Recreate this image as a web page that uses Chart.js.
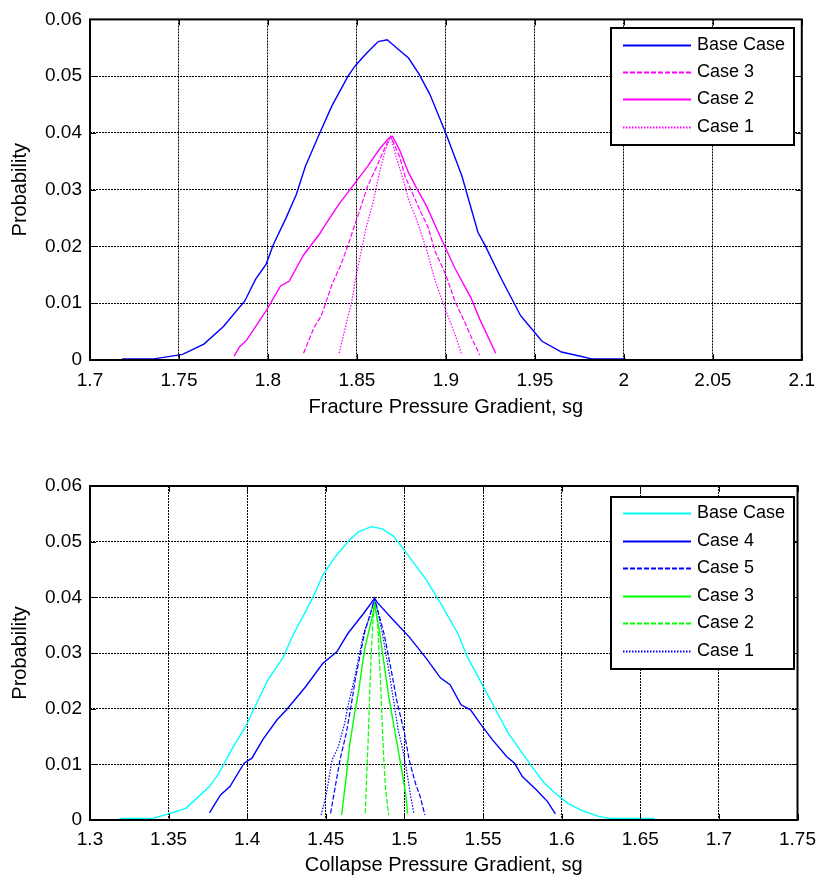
<!DOCTYPE html>
<html><head><meta charset="utf-8">
<script src="https://cdn.jsdelivr.net/npm/chart.js@4.4.1/dist/chart.umd.min.js"></script>
<style>
html,body{margin:0;padding:0;background:#fff;width:824px;height:879px;overflow:hidden;}
#c1{position:absolute;left:0;top:0;}
#c2{position:absolute;left:0;top:440px;}
</style>
</head><body>
<canvas id="c1" width="824" height="440"></canvas>
<canvas id="c2" width="824" height="439"></canvas>
<script>
// ---------- Top chart: Fracture Pressure Gradient ----------
const fracTicks = [1.7,1.75,1.8,1.85,1.9,1.95,2,2.05,2.1];
const fracTickLabels = ['1.7','1.75','1.8','1.85','1.9','1.95','2','2.05','2.1'];
const fracBaseX = [1.718,1.736,1.752,1.764,1.775,1.787,1.793,1.799,1.803,1.810,1.816,1.821,1.829,1.836,1.845,1.849,1.855,1.862,1.867,1.873,1.879,1.885,1.891,1.900,1.909,1.918,1.922,1.931,1.942,1.949,1.954,1.965,1.975,1.982,2.001];
const fracBaseY = [0.0002,0.0002,0.0010,0.0028,0.0059,0.0104,0.0142,0.0169,0.0203,0.0249,0.0292,0.0341,0.0399,0.0448,0.0500,0.0518,0.0539,0.0561,0.0564,0.0548,0.0532,0.0503,0.0468,0.0399,0.0324,0.0225,0.0202,0.0144,0.0078,0.0052,0.0033,0.0014,0.0007,0.0002,0.0002];
const fracCase3X = [1.820,1.826,1.830,1.836,1.841,1.845,1.848,1.850,1.856,1.862,1.866,1.869,1.874,1.877,1.881,1.886,1.890,1.894,1.900,1.905,1.911,1.915,1.919];
const fracCase3Y = [0.0012,0.0058,0.0078,0.0133,0.0168,0.0202,0.0231,0.0249,0.0306,0.0347,0.0376,0.0394,0.0358,0.0324,0.0295,0.0260,0.0234,0.0191,0.0150,0.0104,0.0064,0.0035,0.0009];
const fracCase2X = [1.781,1.784,1.788,1.799,1.807,1.812,1.820,1.829,1.832,1.840,1.849,1.856,1.863,1.868,1.870,1.874,1.879,1.883,1.889,1.894,1.900,1.905,1.914,1.919,1.928];
const fracCase2Y = [0.0007,0.0023,0.0035,0.0087,0.0130,0.0139,0.0185,0.0222,0.0237,0.0275,0.0312,0.0341,0.0373,0.0391,0.0394,0.0370,0.0330,0.0306,0.0272,0.0237,0.0196,0.0162,0.0110,0.0072,0.0012];
const fracCase1X = [1.840,1.844,1.847,1.849,1.852,1.855,1.859,1.863,1.866,1.869,1.872,1.876,1.879,1.884,1.889,1.894,1.900,1.905,1.909];
const fracCase1Y = [0.0012,0.0064,0.0101,0.0139,0.0185,0.0231,0.0277,0.0335,0.0370,0.0394,0.0358,0.0318,0.0283,0.0243,0.0196,0.0139,0.0087,0.0046,0.0009];

// ---------- Bottom chart: Collapse Pressure Gradient ----------
const collTicks = [1.3,1.35,1.4,1.45,1.5,1.55,1.6,1.65,1.7,1.75];
const collTickLabels = ['1.3','1.35','1.4','1.45','1.5','1.55','1.6','1.65','1.7','1.75'];
const collBaseX = [1.319,1.340,1.350,1.361,1.369,1.376,1.382,1.390,1.399,1.405,1.413,1.423,1.429,1.437,1.443,1.448,1.456,1.465,1.471,1.479,1.486,1.493,1.503,1.514,1.523,1.534,1.540,1.549,1.558,1.566,1.575,1.581,1.589,1.596,1.604,1.613,1.624,1.631,1.659];
const collBaseY = [0.0003,0.0003,0.0011,0.0021,0.0042,0.0060,0.0084,0.0126,0.0168,0.0204,0.0251,0.0293,0.0332,0.0374,0.0407,0.0440,0.0473,0.0503,0.0518,0.0527,0.0523,0.0510,0.0473,0.0431,0.0389,0.0335,0.0293,0.0246,0.0198,0.0156,0.0120,0.0096,0.0066,0.0048,0.0030,0.0017,0.0006,0.0003,0.0003];
const collCase4X = [1.376,1.383,1.389,1.398,1.403,1.410,1.419,1.425,1.437,1.448,1.457,1.464,1.469,1.474,1.481,1.483,1.493,1.503,1.514,1.523,1.529,1.536,1.542,1.548,1.556,1.565,1.570,1.575,1.584,1.591,1.596];
const collCase4Y = [0.0013,0.0045,0.0060,0.0102,0.0111,0.0145,0.0180,0.0198,0.0239,0.0281,0.0302,0.0335,0.0353,0.0371,0.0398,0.0390,0.0359,0.0329,0.0290,0.0255,0.0243,0.0207,0.0198,0.0174,0.0144,0.0114,0.0102,0.0078,0.0054,0.0033,0.0011];
const collCase5X = [1.453,1.456,1.459,1.463,1.466,1.469,1.472,1.475,1.479,1.481,1.487,1.492,1.495,1.500,1.503,1.507,1.510,1.513];
const collCase5Y = [0.0012,0.0060,0.0108,0.0156,0.0204,0.0257,0.0299,0.0341,0.0377,0.0398,0.0335,0.0263,0.0216,0.0156,0.0108,0.0066,0.0042,0.0009];
const collCase3X = [1.460,1.463,1.465,1.468,1.471,1.473,1.475,1.478,1.480,1.481,1.484,1.487,1.490,1.493,1.496,1.499,1.501,1.502];
const collCase3Y = [0.0009,0.0078,0.0132,0.0186,0.0234,0.0275,0.0311,0.0347,0.0371,0.0389,0.0341,0.0281,0.0222,0.0174,0.0126,0.0078,0.0042,0.0012];
const collCase2X = [1.475,1.476,1.477,1.478,1.479,1.480,1.481,1.483,1.484,1.485,1.486,1.487,1.488,1.490];
const collCase2Y = [0.0012,0.0078,0.0150,0.0234,0.0305,0.0359,0.0389,0.0353,0.0293,0.0234,0.0162,0.0102,0.0054,0.0009];
const collCase1X = [1.447,1.450,1.454,1.458,1.462,1.464,1.468,1.471,1.474,1.478,1.481,1.486,1.490,1.493,1.496,1.499,1.502,1.504,1.506];
const collCase1Y = [0.0009,0.0042,0.0108,0.0132,0.0174,0.0204,0.0251,0.0293,0.0335,0.0365,0.0399,0.0335,0.0269,0.0216,0.0162,0.0126,0.0078,0.0042,0.0012];

const yTicks = [0,0.01,0.02,0.03,0.04,0.05,0.06];
const yTickLabels = ['0','0.01','0.02','0.03','0.04','0.05','0.06'];

const FONT = '"Liberation Sans", Arial, sans-serif';
const DASH = [5,2];
const DOT = [1.5,1.5];

function pts(xs, ys) { return xs.map((x, i) => ({x: x, y: ys[i]})); }
function ds(label, xs, ys, color, dash, w) {
  return { label, data: pts(xs, ys), borderColor: color, backgroundColor: color,
    borderDash: dash || [], borderWidth: w || 1.4, pointRadius: 0, tension: 0, fill: false };
}
function labelFor(v, ticks, labels) {
  let best = 0;
  ticks.forEach((t, i) => { if (Math.abs(t - v) < Math.abs(ticks[best] - v)) best = i; });
  return labels[best];
}

const matlabPlugin = {
  id: 'matlab',
  afterDatasetsDraw(chart, args, opts) {
    const {ctx, chartArea: a, scales} = chart;
    ctx.save();
    ctx.strokeStyle = '#000';
    ctx.setLineDash([]);
    ctx.lineWidth = 1;
    const L = 6;
    scales.x.ticks.forEach(t => {
      const px = Math.round(scales.x.getPixelForValue(t.value)) + 0.5;
      ctx.beginPath();
      ctx.moveTo(px, a.bottom); ctx.lineTo(px, a.bottom - L);
      ctx.moveTo(px, a.top); ctx.lineTo(px, a.top + L);
      ctx.stroke();
    });
    scales.y.ticks.forEach(t => {
      const py = Math.round(scales.y.getPixelForValue(t.value)) + 0.5;
      ctx.beginPath();
      ctx.moveTo(a.left, py); ctx.lineTo(a.left + L, py);
      ctx.moveTo(a.right, py); ctx.lineTo(a.right - L, py);
      ctx.stroke();
    });
    ctx.lineWidth = 2;
    ctx.strokeRect(a.left, a.top, a.right - a.left, a.bottom - a.top);
    ctx.restore();
  },
  afterDraw(chart, args, opts) {
    const lg = opts.legend;
    if (!lg) return;
    const ctx = chart.ctx;
    ctx.save();
    ctx.fillStyle = '#fff';
    ctx.fillRect(lg.left, lg.top, lg.right - lg.left, lg.bottom - lg.top);
    ctx.strokeStyle = '#000';
    ctx.lineWidth = 2;
    ctx.setLineDash([]);
    ctx.strokeRect(lg.left, lg.top, lg.right - lg.left, lg.bottom - lg.top);
    chart.data.datasets.forEach((d, i) => {
      const y = Math.round(lg.rowY0 + i * lg.rowStep) + 0.5;
      ctx.strokeStyle = d.borderColor;
      ctx.lineWidth = 2;
      ctx.setLineDash(d.borderDash || []);
      ctx.beginPath();
      ctx.moveTo(lg.lineX0, y); ctx.lineTo(lg.lineX1, y);
      ctx.stroke();
      ctx.setLineDash([]);
      ctx.fillStyle = '#000';
      ctx.font = '18px ' + FONT;
      ctx.textBaseline = 'middle';
      ctx.textAlign = 'left';
      ctx.fillText(d.label, lg.textX, y);
    });
    ctx.restore();
  }
};

function makeChart(canvas, cfg) {
  return new Chart(canvas, {
    type: 'line',
    data: { datasets: cfg.datasets },
    plugins: [matlabPlugin],
    options: {
      responsive: false, animation: false, devicePixelRatio: 1,
      layout: { padding: { top: cfg.padTop, right: 20, left: 0, bottom: 0 } },
      plugins: {
        legend: { display: false }, tooltip: { enabled: false },
        matlab: { legend: cfg.legend }
      },
      scales: {
        x: {
          type: 'linear', min: cfg.xTicks[0], max: cfg.xTicks[cfg.xTicks.length - 1],
          afterBuildTicks: s => { s.ticks = cfg.xTicks.map(v => ({value: v})); },
          afterFit: s => { s.height = cfg.xAxisHeight; },
          ticks: { autoSkip: false, maxRotation: 0, padding: cfg.xTickPad, color: '#000',
            font: { family: FONT, size: 19 },
            callback: v => labelFor(v, cfg.xTicks, cfg.xLabels) },
          grid: { color: '#000', lineWidth: 1, drawTicks: false },
          border: { display: false, dash: [2, 1] },
          title: { display: true, text: cfg.xTitle, color: '#000',
            font: { family: FONT, size: 20 }, padding: { top: 0, bottom: cfg.xTitlePad } }
        },
        y: {
          type: 'linear', min: 0, max: 0.06,
          afterBuildTicks: s => { s.ticks = yTicks.map(v => ({value: v})); },
          afterFit: s => { s.width = 90; },
          ticks: { padding: 8, color: '#000', font: { family: FONT, size: 19 },
            callback: v => labelFor(v, yTicks, yTickLabels) },
          grid: { color: '#000', lineWidth: 1, drawTicks: false },
          border: { display: false, dash: [2, 1] },
          title: { display: true, text: 'Probability', color: '#000',
            font: { family: FONT, size: 20 }, padding: { top: 8, bottom: 0 } }
        }
      }
    }
  });
}

makeChart(document.getElementById('c1'), {
  xTicks: fracTicks, xLabels: fracTickLabels, xTitle: 'Fracture Pressure Gradient, sg',
  padTop: 14, xAxisHeight: 80, xTickPad: 9, xTitlePad: 21,
  datasets: [
    ds('Base Case', fracBaseX, fracBaseY, '#0000ff', null, 1.4),
    ds('Case 3', fracCase3X, fracCase3Y, '#ff00ff', DASH, 1.2),
    ds('Case 2', fracCase2X, fracCase2Y, '#ff00ff', null, 1.4),
    ds('Case 1', fracCase1X, fracCase1Y, '#ff00ff', DOT, 1.2)
  ],
  legend: { left: 611, top: 28, right: 794, bottom: 145, lineX0: 623, lineX1: 691, textX: 697, rowY0: 44.5, rowStep: 27.4 }
});

makeChart(document.getElementById('c2'), {
  xTicks: collTicks, xLabels: collTickLabels, xTitle: 'Collapse Pressure Gradient, sg',
  padTop: 46, xAxisHeight: 59, xTickPad: 8, xTitlePad: 2,
  datasets: [
    ds('Base Case', collBaseX, collBaseY, '#00ffff', null, 1.4),
    ds('Case 4', collCase4X, collCase4Y, '#0000ff', null, 1.4),
    ds('Case 5', collCase5X, collCase5Y, '#0000ff', DASH, 1.2),
    ds('Case 3', collCase3X, collCase3Y, '#00ff00', null, 1.4),
    ds('Case 2', collCase2X, collCase2Y, '#00ff00', DASH, 1.2),
    ds('Case 1', collCase1X, collCase1Y, '#0000ff', DOT, 1.2)
  ],
  legend: { left: 611, top: 57, right: 794, bottom: 229, lineX0: 623, lineX1: 691, textX: 697, rowY0: 73.3, rowStep: 27.5 }
});
</script>
</body></html>
